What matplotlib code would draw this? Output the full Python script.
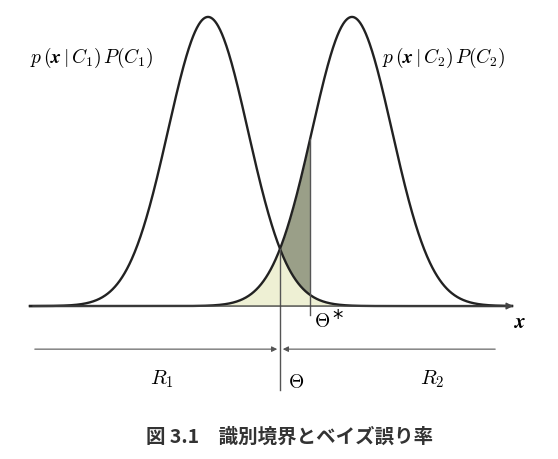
import numpy as np
import matplotlib.pyplot as plt

plt.rcParams['mathtext.fontset'] = 'cm'

mu = [0.0, 3.6]
sigma = 1.0
theta = 1.8
theta_star = 2.55
labels = [r"$p\,(\mathbfit{x}\,|\,C_1)\,P(C_1)$", r"$p\,(\mathbfit{x}\,|\,C_2)\,P(C_2)$"]
caption = "図 3.1　識別境界とベイズ誤り率"

fig = plt.figure(figsize=(5.58, 4.6), dpi=100)
ax = fig.add_axes([0, 0, 1, 1])
ax.set_xlim(-5.2, 8.75)
ax.set_ylim(-0.529, 1.062)
ax.axis("off")

x = np.linspace(-4.45, 7.6, 1000)
p1 = np.exp(-(x - mu[0]) ** 2 / (2 * sigma ** 2))
p2 = np.exp(-(x - mu[1]) ** 2 / (2 * sigma ** 2))

ax.fill_between(x, 0, np.minimum(p1, p2), color="#eef0d4", lw=0)
m = (x >= theta) & (x <= theta_star)
ax.fill_between(x[m], p1[m], p2[m], color="#9a9f88", lw=0)
ax.plot(x, p1, color="#222", lw=1.7)
ax.plot(x, p2, color="#222", lw=1.7)

ax.annotate("", xy=(7.7, 0), xytext=(-4.45, 0),
            arrowprops=dict(arrowstyle="-|>", color="#444", lw=1, mutation_scale=10))
ax.plot([theta_star, theta_star], [-0.03, np.exp(-(theta_star - mu[1]) ** 2 / 2)], color="#555", lw=1)
ax.plot([theta, theta], [-0.29, np.exp(-theta ** 2 / 2)], color="#555", lw=1)

yr = -0.149
ax.annotate("", xy=(theta, yr), xytext=(-4.4, yr),
            arrowprops=dict(arrowstyle="-|>", color="#555", lw=0.8, mutation_scale=8))
ax.annotate("", xy=(theta, yr), xytext=(7.25, yr),
            arrowprops=dict(arrowstyle="-|>", color="#555", lw=0.8, mutation_scale=8))

ax.text(-4.45, 0.86, labels[0], fontsize=14, va="center")
ax.text(4.35, 0.86, labels[1], fontsize=14, va="center")
ax.text(theta_star + 0.1, -0.05, r"$\Theta$", fontsize=14, va="center")
ax.text(theta_star + 0.55, -0.04, "*", fontsize=15, va="center")
ax.text(theta + 0.2, -0.26, r"$\Theta$", fontsize=14, va="center")
ax.text(-1.45, -0.25, r"$R_1$", fontsize=15, va="center")
ax.text(5.3, -0.25, r"$R_2$", fontsize=15, va="center")
ax.text(7.65, -0.05, r"$\mathbfit{x}$", fontsize=15, va="center")
ax.text(2.05, -0.45, caption, fontsize=14, ha="center", va="center", weight="bold",
        family=["Noto Sans CJK JP", "DejaVu Sans"], color="#333")

fig.savefig("out.png")
